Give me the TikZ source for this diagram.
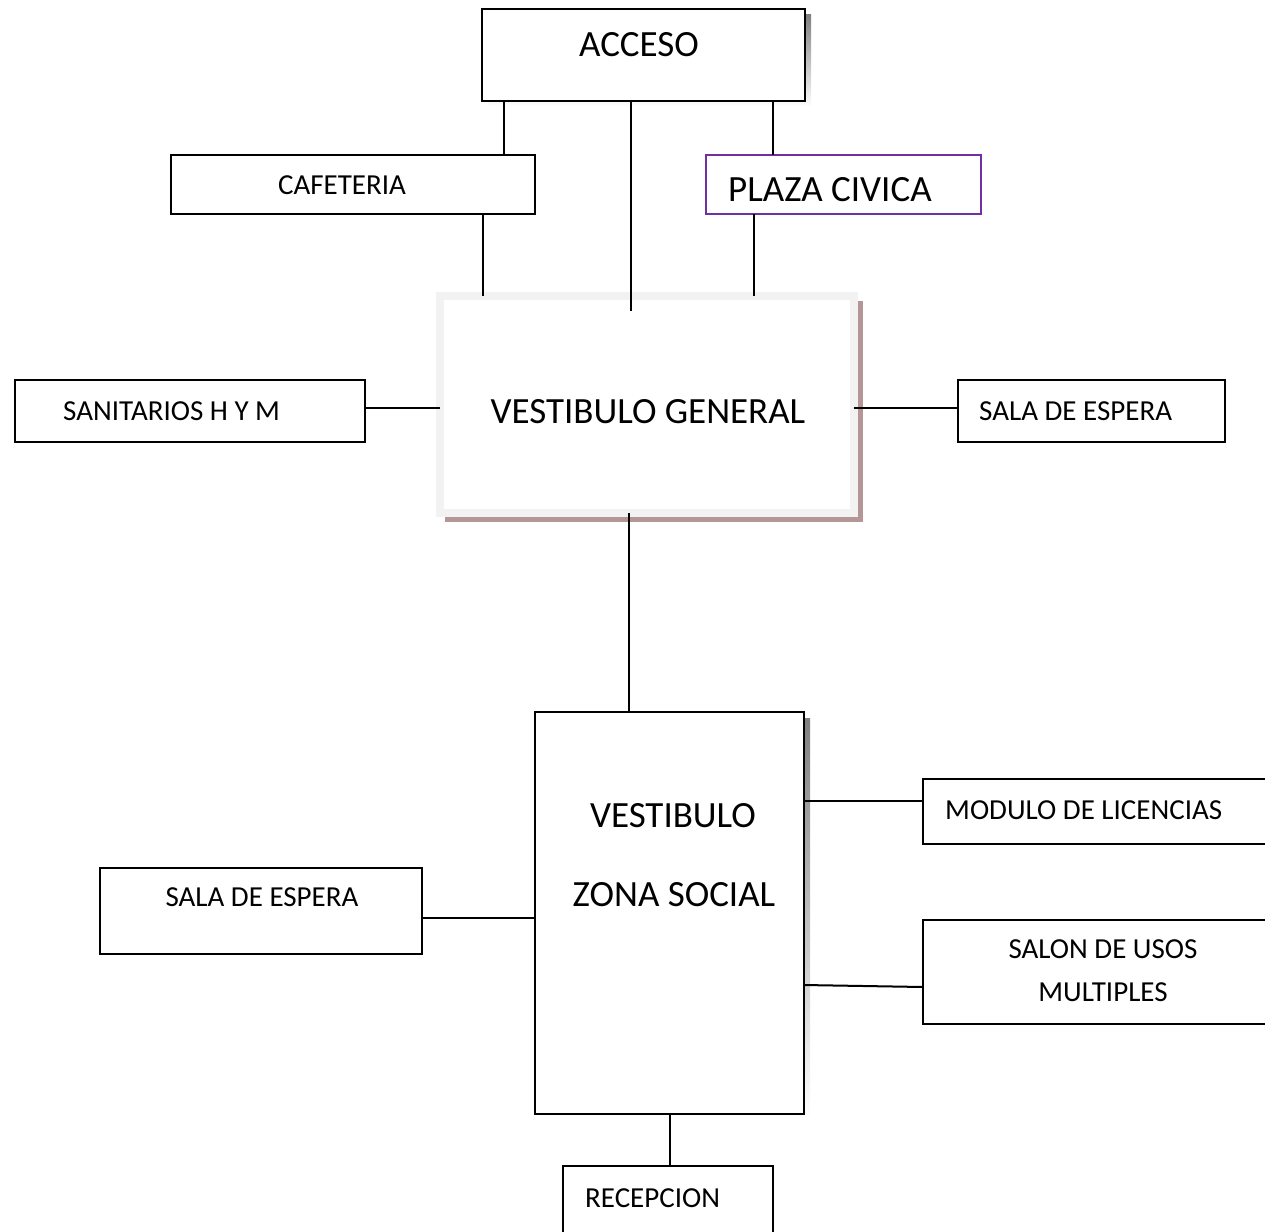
\documentclass[tikz,border=0pt]{standalone}
\usepackage{fontspec}
\setmainfont{Carlito}
\usetikzlibrary{backgrounds}
\definecolor{plum}{RGB}{112,48,160}
\definecolor{rosy}{RGB}{180,150,150}
\definecolor{band}{RGB}{242,242,242}
\definecolor{shade}{RGB}{110,110,110}
\begin{document}
\begin{tikzpicture}[x=1pt,y=-1pt,
  box/.style={draw=black, line width=2pt, fill=white, inner sep=0pt, outer sep=0pt, anchor=north west},
  conn/.style={draw=black, line width=2pt},
  sm/.style={inner sep=0pt, font=\fontsize{29}{35}\selectfont},
  lg/.style={inner sep=0pt, font=\fontsize{37}{44}\selectfont}]
\useasboundingbox (0,0) rectangle (1265,1231);
\clip (0,0) rectangle (1265,1231);
% boxes
\node[box, minimum width=323pt, minimum height=92pt] (acc) at (482,9) {};
\node[box, minimum width=364pt, minimum height=59pt] (cafe) at (171,155) {};
\node[box, draw=plum, minimum width=275pt, minimum height=59pt] (plaza) at (706,155) {};
\node[box, draw=band, line width=8pt, minimum width=414pt, minimum height=217pt] (vg) at (440,296) {};
\node[box, minimum width=350pt, minimum height=62pt] (sani) at (15,380) {};
\node[box, minimum width=267pt, minimum height=62pt] (salar) at (958,380) {};
\node[box, minimum width=269pt, minimum height=402pt] (vzs) at (535,712) {};
\node[box, minimum width=360pt, minimum height=65pt] (modu) at (923,779) {};
\node[box, minimum width=322pt, minimum height=86pt] (salal) at (100,868) {};
\node[box, minimum width=360pt, minimum height=104pt] (salon) at (923,920) {};
\node[box, minimum width=210pt, minimum height=90pt] (recep) at (563,1166) {};
% shadows
\begin{pgfonlayer}{background}
  \fill[shade] ([shift={(6,6)}]acc.north west) rectangle ([shift={(6,6)}]acc.south east);
  \fill[shade] ([shift={(6,6)}]vzs.north west) rectangle ([shift={(6,6)}]vzs.south east);
  \fill[rosy] ([shift={(5,5)}]vg.north west) rectangle ([shift={(9,9)}]vg.south east);
\end{pgfonlayer}
% texts
\node[lg] (tacc) at (639,45) {ACCESO};
\node[sm] (tcafe) at (342,185) {CAFETERIA};
\node[lg, anchor=west] (tplaza) at (728,190) {PLAZA CIVICA};
\node[lg] (tvg) at (648,412) {VESTIBULO GENERAL};
\node[sm, anchor=west] (tsani) at (63,411) {SANITARIOS H Y M};
\node[sm, anchor=west] (tsalar) at (979,411) {SALA DE ESPERA};
\node[lg] (tvzs1) at (673,816) {VESTIBULO};
\node[lg] (tvzs2) at (674,895) {ZONA SOCIAL};
\node[sm, anchor=west] (tmodu) at (945,810) {MODULO DE LICENCIAS};
\node[sm] (tsalal) at (262,897) {SALA DE ESPERA};
\node[sm] (tsalon1) at (1103,949) {SALON DE USOS};
\node[sm] (tsalon2) at (1103,992) {MULTIPLES};
\node[sm, anchor=west] (trecep) at (585,1198) {RECEPCION};
% connectors
\coordinate (vgin) at (631,311);
\draw[conn] (acc.south -| 504,0) -- (cafe.north -| 504,0);
\draw[conn] (acc.south -| vgin) -- (vgin);
\draw[conn] (acc.south -| 773,0) -- (plaza.north -| 773,0);
\draw[conn] (cafe.south -| 483,0) -- (vg.north -| 483,0);
\draw[conn] (plaza.south -| 754,0) -- (vg.north -| 754,0);
\draw[conn] (sani.east |- 0,408) -- (vg.west |- 0,408);
\draw[conn] (vg.east |- 0,408) -- (salar.west |- 0,408);
\draw[conn] (vg.south -| 629,0) -- (vzs.north -| 629,0);
\draw[conn] (vzs.east |- 0,801) -- (modu.west |- 0,801);
\draw[conn] (salal.east |- 0,918) -- (vzs.west |- 0,918);
\draw[conn] (vzs.east |- 0,985) -- (salon.west |- 0,987);
\draw[conn] (vzs.south -| 670,0) -- (recep.north -| 670,0);
\end{tikzpicture}
\end{document}
